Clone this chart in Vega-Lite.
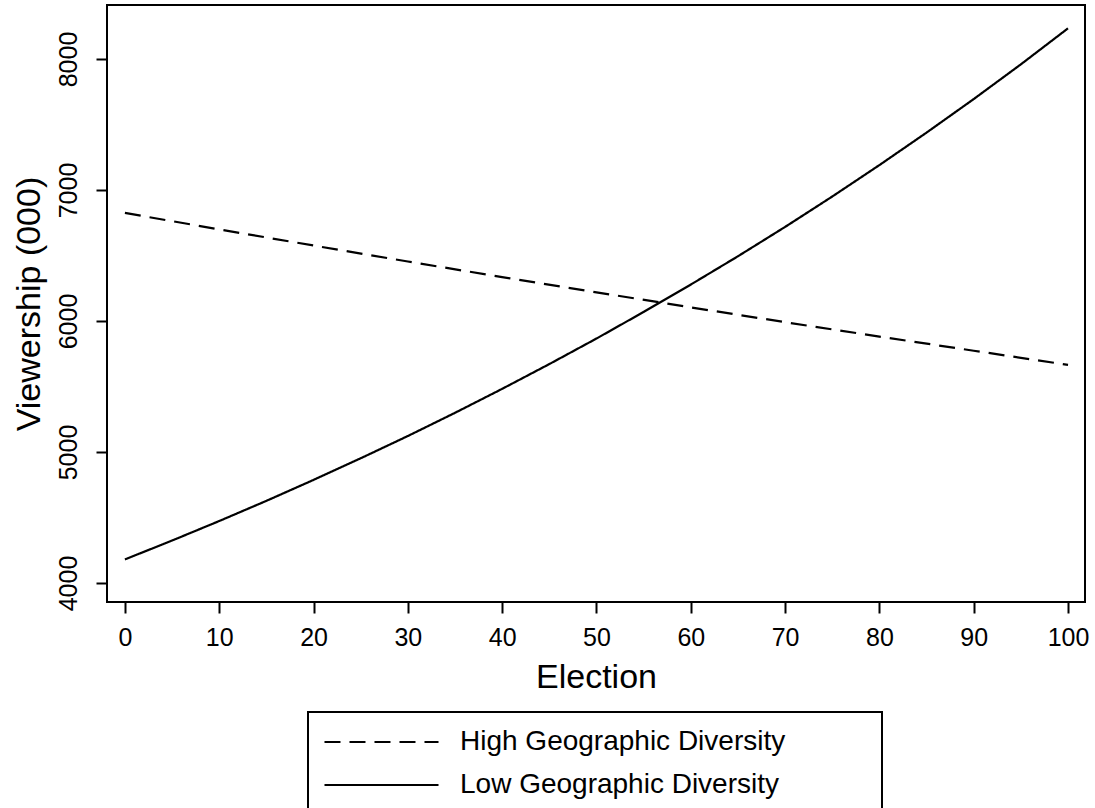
{
  "$schema": "https://vega.github.io/schema/vega-lite/v6.json",
  "autosize": {"type": "none"},
  "padding": {"left": 107, "top": 5, "right": 10, "bottom": 206},
  "width": 978,
  "height": 597,
  "background": "white",
  "config": {
    "font": "Liberation Sans",
    "view": {"stroke": "black", "strokeWidth": 2},
    "axis": {
      "domain": false,
      "grid": false,
      "tickColor": "black",
      "tickWidth": 2,
      "tickSize": 11,
      "labelColor": "black",
      "titleColor": "black",
      "labelFontSize": 25,
      "titleFontSize": 34,
      "titleFontWeight": "normal",
      "labelFont": "Liberation Sans",
      "titleFont": "Liberation Sans"
    }
  },
  "data": {
    "values": [
      {"election": 0, "viewership": 6825, "series": "High Geographic Diversity"},
      {"election": 10, "viewership": 6699, "series": "High Geographic Diversity"},
      {"election": 20, "viewership": 6576, "series": "High Geographic Diversity"},
      {"election": 30, "viewership": 6454, "series": "High Geographic Diversity"},
      {"election": 40, "viewership": 6335, "series": "High Geographic Diversity"},
      {"election": 50, "viewership": 6219, "series": "High Geographic Diversity"},
      {"election": 60, "viewership": 6104, "series": "High Geographic Diversity"},
      {"election": 70, "viewership": 5991, "series": "High Geographic Diversity"},
      {"election": 80, "viewership": 5881, "series": "High Geographic Diversity"},
      {"election": 90, "viewership": 5773, "series": "High Geographic Diversity"},
      {"election": 100, "viewership": 5665, "series": "High Geographic Diversity"},
      {"election": 0, "viewership": 4180, "series": "Low Geographic Diversity"},
      {"election": 5, "viewership": 4324, "series": "Low Geographic Diversity"},
      {"election": 10, "viewership": 4473, "series": "Low Geographic Diversity"},
      {"election": 15, "viewership": 4627, "series": "Low Geographic Diversity"},
      {"election": 20, "viewership": 4787, "series": "Low Geographic Diversity"},
      {"election": 25, "viewership": 4952, "series": "Low Geographic Diversity"},
      {"election": 30, "viewership": 5122, "series": "Low Geographic Diversity"},
      {"election": 35, "viewership": 5299, "series": "Low Geographic Diversity"},
      {"election": 40, "viewership": 5482, "series": "Low Geographic Diversity"},
      {"election": 45, "viewership": 5671, "series": "Low Geographic Diversity"},
      {"election": 50, "viewership": 5866, "series": "Low Geographic Diversity"},
      {"election": 55, "viewership": 6069, "series": "Low Geographic Diversity"},
      {"election": 60, "viewership": 6278, "series": "Low Geographic Diversity"},
      {"election": 65, "viewership": 6494, "series": "Low Geographic Diversity"},
      {"election": 70, "viewership": 6718, "series": "Low Geographic Diversity"},
      {"election": 75, "viewership": 6950, "series": "Low Geographic Diversity"},
      {"election": 80, "viewership": 7190, "series": "Low Geographic Diversity"},
      {"election": 85, "viewership": 7438, "series": "Low Geographic Diversity"},
      {"election": 90, "viewership": 7694, "series": "Low Geographic Diversity"},
      {"election": 95, "viewership": 7959, "series": "Low Geographic Diversity"},
      {"election": 100, "viewership": 8234, "series": "Low Geographic Diversity"}
    ]
  },
  "mark": {"type": "line", "color": "black", "strokeWidth": 2.2},
  "encoding": {
    "x": {
      "field": "election",
      "type": "quantitative",
      "title": "Election",
      "scale": {"domain": [-1.9, 101.8], "nice": false, "zero": false},
      "axis": {"values": [0, 10, 20, 30, 40, 50, 60, 70, 80, 90, 100], "labelPadding": 12, "titlePadding": 10}
    },
    "y": {
      "field": "viewership",
      "type": "quantitative",
      "title": "Viewership (000)",
      "scale": {"domain": [3855, 8412], "nice": false, "zero": false},
      "axis": {"values": [4000, 5000, 6000, 7000, 8000], "format": "d", "labelAngle": -90, "labelPadding": 15, "titlePadding": 10}
    },
    "strokeDash": {
      "field": "series",
      "type": "nominal",
      "scale": {"domain": ["High Geographic Diversity", "Low Geographic Diversity"], "range": [[16, 9], [1, 0]]},
      "legend": {
        "title": null,
        "orient": "none",
        "legendX": 201,
        "legendY": 707,
        "direction": "vertical",
        "strokeColor": "black",
        "padding": 15,
        "symbolType": "stroke",
        "symbolSize": 13000,
        "symbolStrokeWidth": 2.2,
        "symbolStrokeColor": "black",
        "symbolDash": [14, 10],
        "clipHeight": 30,
        "rowPadding": 13,
        "labelFontSize": 28,
        "labelColor": "black",
        "labelOffset": 20,
        "labelLimit": 600,
        "encode": {
          "legend": {"update": {"strokeWidth": {"value": 2}}},
          "entries": {"update": {"width": {"value": 544}, "fill": {"value": "white"}}}
        }
      }
    }
  }
}
